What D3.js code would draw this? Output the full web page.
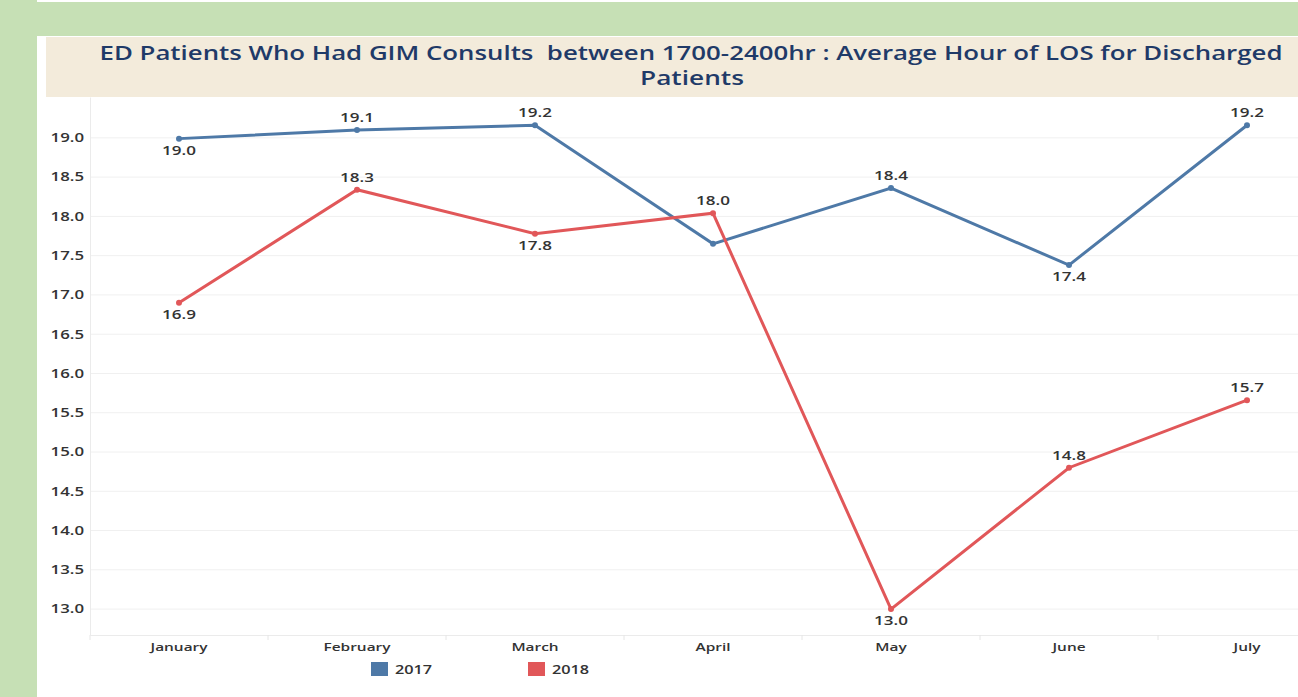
<!DOCTYPE html>
<html>
<head>
<meta charset="utf-8">
<script src="https://d3js.org/d3.v7.min.js"></script>
<style>
    body { margin: 0; background: #c6e0b5; overflow: hidden; }
    svg text { font-family: "Open Sans", Lato, sans-serif; }
</style>
</head>
<body>
<svg width="1298" height="697"></svg>
<script>
    // chart data
    var months = ["January", "February", "March", "April", "May", "June", "July"];
    var years = ["2017", "2018"];
    var values2017 = [18.99, 19.10, 19.16, 17.65, 18.36, 17.38, 19.16];
    var values2018 = [16.90, 18.34, 17.78, 18.04, 13.00, 14.80, 15.66];
    var yTicks = [13.0, 13.5, 14.0, 14.5, 15.0, 15.5, 16.0, 16.5, 17.0, 17.5, 18.0, 18.5, 19.0];
    // which side of the point the label sits on ("" = no label)
    var labelSide2017 = ["below", "above", "above", "", "above", "below", "above"];
    var labelSide2018 = ["below", "above", "below", "above", "below", "above", "above"];
    var colors = ["#4e79a7", "#e15759"];

    var svg = d3.select("svg");

    // the source font is wider than Open Sans, so widen text a bit
    function widen(sel, f) {
        sel.each(function () {
            var len = this.getComputedTextLength();
            d3.select(this).attr("textLength", len * f).attr("lengthAdjust", "spacingAndGlyphs");
        });
    }

    // white top strip and panel
    svg.append("rect").attr("x", 37).attr("y", 0).attr("width", 1261).attr("height", 2).attr("fill", "#fff");
    svg.append("rect").attr("x", 37).attr("y", 36).attr("width", 1261).attr("height", 661).attr("fill", "#fff");
    svg.append("rect").attr("x", 46).attr("y", 37).attr("width", 1252).attr("height", 60).attr("fill", "#f3ebdb");

    var title = svg.append("text")
        .attr("text-anchor", "middle")
        .attr("fill", "#1f3a68")
        .attr("xml:space", "preserve")
        .style("white-space", "pre")
        .style("font-size", "19px")
        .style("font-weight", "600");
    title.append("tspan").attr("x", 691).attr("y", 60)
        .text("ED Patients Who Had GIM Consults  between 1700-2400hr : Average Hour of LOS for Discharged")
        .attr("textLength", 1183).attr("lengthAdjust", "spacingAndGlyphs");
    title.append("tspan").attr("x", 692).attr("y", 85).text("Patients")
        .attr("textLength", 104).attr("lengthAdjust", "spacingAndGlyphs");

    var xs = d3.scaleBand().domain(months).range([90, 1336]);
    var ys = d3.scaleLinear().domain([12.67, 19.52]).range([635, 97]);

    // gridlines
    svg.append("g").selectAll("line").data(yTicks).enter().append("line")
        .attr("x1", 90).attr("x2", 1298)
        .attr("y1", function (d) { return ys(d); })
        .attr("y2", function (d) { return ys(d); })
        .attr("stroke", "#f0f0f0");

    // y axis
    var yAxis = svg.append("g")
        .attr("transform", "translate(90,0)")
        .call(d3.axisLeft(ys).tickValues(yTicks).tickFormat(d3.format(".1f")).tickSize(0).tickPadding(6));
    yAxis.select(".domain").attr("stroke", "#ebebeb");
    yAxis.selectAll("text").attr("fill", "#333").style("font-size", "12px").style("font-weight", "600").style("font-family", "Open Sans, sans-serif");
    widen(yAxis.selectAll("text"), 1.4);

    // x axis
    var xAxis = svg.append("g")
        .attr("transform", "translate(0,635)")
        .call(d3.axisBottom(xs).tickSize(0).tickPadding(8));
    xAxis.select(".domain").attr("stroke", "#ebebeb");
    xAxis.selectAll("text").attr("fill", "#333").style("font-size", "11.5px").style("font-weight", "600").style("font-family", "Open Sans, sans-serif");
    widen(xAxis.selectAll("text"), 1.34);
    svg.append("g").selectAll("line").data(months).enter().append("line")
        .attr("x1", function (d) { return xs(d); })
        .attr("x2", function (d) { return xs(d); })
        .attr("y1", 635).attr("y2", 640)
        .attr("stroke", "#e6e6e6");

    var series = [
        { name: "2017", values: values2017, sides: labelSide2017, color: colors[0] },
        { name: "2018", values: values2018, sides: labelSide2018, color: colors[1] }
    ];

    var line = d3.line()
        .x(function (d, i) { return xs(months[i]) + xs.bandwidth() / 2; })
        .y(function (d) { return ys(d); });

    series.forEach(function (s) {
        var g = svg.append("g");
        g.append("path").datum(s.values)
            .attr("d", line)
            .attr("fill", "none")
            .attr("stroke", s.color)
            .attr("stroke-width", 3);
        g.selectAll("circle").data(s.values).enter().append("circle")
            .attr("cx", function (d, i) { return xs(months[i]) + xs.bandwidth() / 2; })
            .attr("cy", function (d) { return ys(d); })
            .attr("r", 3)
            .attr("fill", s.color);
        var pts = s.values.map(function (v, i) { return { v: v, i: i }; })
            .filter(function (p) { return s.sides[p.i] !== ""; });
        var labels = g.selectAll("text").data(pts).enter().append("text")
            .attr("x", function (p) { return xs(months[p.i]) + xs.bandwidth() / 2; })
            .attr("y", function (p) { return s.sides[p.i] === "above" ? ys(p.v) - 8 : ys(p.v) + 16; })
            .attr("text-anchor", "middle")
            .attr("fill", "#333")
            .style("font-size", "12px")
            .style("font-weight", "600")
            .text(function (p) { return d3.format(".1f")(p.v); });
        widen(labels, 1.42);
    });

    // legend
    var legend = svg.append("g").selectAll("g").data(series).enter().append("g")
        .attr("transform", function (d, i) { return "translate(371," + 0 + ")translate(" + (i * 157) + ",662)"; });
    legend.append("rect").attr("width", 17).attr("height", 14).attr("fill", function (d) { return d.color; });
    var legText = legend.append("text").attr("x", 24).attr("y", 12)
        .attr("fill", "#333").style("font-size", "13px").style("font-weight", "600")
        .text(function (d) { return d.name; });
    widen(legText, 1.25);
</script>
</body>
</html>
